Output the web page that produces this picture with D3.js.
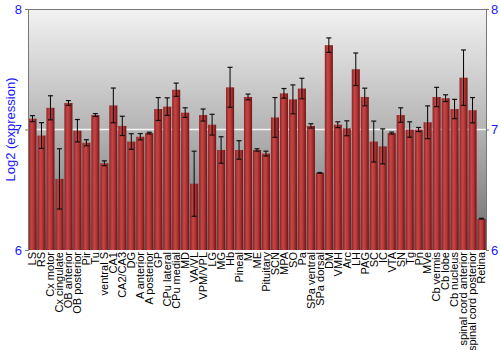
<!DOCTYPE html>
<html>
<head>
<meta charset="utf-8">
<script src="https://cdn.jsdelivr.net/npm/d3@7"></script>
<style>
  body { margin: 0; background: #fff; }
  text { font-family: "Liberation Sans", Arial, sans-serif; }
</style>
</head>
<body>
<svg id="chart" width="500" height="350"></svg>
<script>
var regions = ["LS","RS","Cx motor","Cx cingulate","OB anterior","OB posterior","Pir","Tu","ventral S","CA1",
  "CA2/CA3","DG","A anterior","A posterior","GP","CPu lateral","CPu medial","MD","VA/VL","VPM/VPL",
  "LG","MG","Hb","Pineal","M","ME","Pituitary","SCN","MPA","SO",
  "Pa","SPa ventral","SPa dorsal","DM","VMH","Arc","LH","PAG","SC","IC",
  "VTA","SN","Tg","Pn","MVe","Cb vermis","Cb lobe","Cb nucleus","spinal cord anterior","spinal cord posterior",
  "Retina"]
var expression = [7.09,6.95,7.18,6.59,7.22,6.99,6.89,7.12,6.72,7.20,
  7.03,6.90,6.94,6.97,7.17,7.19,7.33,7.14,6.55,7.12,
  7.04,6.83,7.35,6.83,7.27,6.83,6.80,7.10,7.30,7.25,
  7.34,7.03,6.64,7.70,7.04,7.01,7.50,7.27,6.90,6.86,
  6.97,7.12,7.00,7.00,7.06,7.27,7.26,7.17,7.43,7.16,
  6.26]
var errors = [0.025,0.107,0.10,0.25,0.02,0.093,0.025,0.012,0.02,0.144,
  0.08,0.065,0.026,0.007,0.095,0.073,0.055,0.04,0.27,0.05,
  0.086,0.11,0.166,0.077,0.024,0.01,0.02,0.165,0.04,0.12,
  0.085,0.018,0.003,0.06,0.024,0.062,0.135,0.073,0.17,0.145,
  0.008,0.06,0.064,0.017,0.136,0.08,0.028,0.08,0.23,0.105,
  0.003]
var yTicks = [6,7,8]

var svg = d3.select("#chart"),
  margin = {top: 9, right: 14, bottom: 100, left: 28},
  width = +svg.attr("width") - margin.left - margin.right,
  height = +svg.attr("height") - margin.top - margin.bottom;

var x = d3.scaleBand().range([0, width]).paddingInner(0.1).paddingOuter(0.05).domain(regions),
  y = d3.scaleLinear().range([height, 0]).domain([6, 8]);

var defs = svg.append("defs");
var bg = defs.append("linearGradient").attr("id", "bg").attr("x1", 0).attr("y1", 0).attr("x2", 0).attr("y2", 1);
bg.append("stop").attr("offset", "0%").attr("stop-color", "#f2f2f2");
bg.append("stop").attr("offset", "50%").attr("stop-color", "#b4b4b4");
bg.append("stop").attr("offset", "100%").attr("stop-color", "#6e6e6e");

var barGrad = defs.append("linearGradient").attr("id", "bar").attr("x1", 0).attr("y1", 0).attr("x2", 1).attr("y2", 0);
barGrad.append("stop").attr("offset", "0%").attr("stop-color", "#8a2222");
barGrad.append("stop").attr("offset", "35%").attr("stop-color", "#c54646");
barGrad.append("stop").attr("offset", "60%").attr("stop-color", "#b83838");
barGrad.append("stop").attr("offset", "100%").attr("stop-color", "#6e1414");

var g = svg.append("g").attr("transform", "translate(" + margin.left + "," + margin.top + ")");

g.append("rect").attr("width", width).attr("height", height).attr("fill", "url(#bg)");

// gridline at 7
g.append("line")
  .attr("x1", 0).attr("x2", width)
  .attr("y1", y(7)).attr("y2", y(7))
  .attr("stroke", "#f4f4f4").attr("stroke-width", 1.5);

// frame top
g.append("line").attr("x1", 0).attr("x2", width).attr("y1", 0.5).attr("y2", 0.5)
  .attr("stroke", "#777").attr("stroke-width", 1);

var data = regions.map(function(r, i){ return {field: r, value: expression[i], err: errors[i]} })

g.selectAll(".bar")
  .data(data)
  .enter().append("rect")
  .attr("class", "bar")
  .attr("x", d => x(d.field))
  .attr("y", d => y(d.value))
  .attr("width", x.bandwidth())
  .attr("height", d => height - y(d.value))
  .attr("fill", "url(#bar)");

var eb = g.selectAll(".err")
  .data(data)
  .enter().append("g")
  .attr("class", "err")
  .attr("transform", d => "translate(" + (x(d.field) + x.bandwidth() / 2) + ",0)");
eb.append("line")
  .attr("y1", d => y(d.value - d.err)).attr("y2", d => y(d.value + d.err))
  .attr("stroke", "#000").attr("stroke-width", 1);
eb.append("line")
  .attr("x1", -2.5).attr("x2", 2.5)
  .attr("y1", d => y(d.value + d.err)).attr("y2", d => y(d.value + d.err))
  .attr("stroke", "#111").attr("stroke-width", 1.2);
eb.append("line")
  .attr("x1", -2.5).attr("x2", 2.5)
  .attr("y1", d => y(d.value - d.err)).attr("y2", d => y(d.value - d.err))
  .attr("stroke", "#111").attr("stroke-width", 1.2);

// axes
var fmt = d3.format("d");
var yLeft = g.append("g").call(d3.axisLeft(y).tickValues(yTicks).tickFormat(fmt).tickSize(3).tickPadding(3));
var yRight = g.append("g").attr("transform", "translate(" + width + ",0)")
  .call(d3.axisRight(y).tickValues(yTicks).tickFormat(fmt).tickSize(3).tickPadding(2));
[yLeft, yRight].forEach(function(a){
  a.select(".domain").attr("stroke", "#777");
  a.selectAll(".tick line").attr("stroke", "#777");
  a.selectAll(".tick text").attr("fill", "#1a1aff").attr("font-size", 13)
    .attr("font-family", "Liberation Sans, Arial, sans-serif");
});

var xAxis = g.append("g").attr("transform", "translate(0," + height + ")")
  .call(d3.axisBottom(x).tickSize(0).tickPadding(0));
xAxis.select(".domain").remove();
xAxis.selectAll(".tick text")
  .attr("transform", "rotate(-90)")
  .attr("text-anchor", "end")
  .attr("dy", "0.35em")
  .attr("x", -2)
  .attr("y", 0)
  .attr("fill", "#000")
  .attr("font-size", 11)
  .attr("font-family", "Liberation Sans, Arial, sans-serif");

svg.append("text")
  .attr("transform", "translate(10," + (margin.top + height / 2) + ") rotate(-90)")
  .attr("text-anchor", "middle")
  .attr("dy", "0.35em")
  .attr("fill", "#1a1aff")
  .attr("font-size", 13)
  .text("Log2 (expression)");
</script>
</body>
</html>
